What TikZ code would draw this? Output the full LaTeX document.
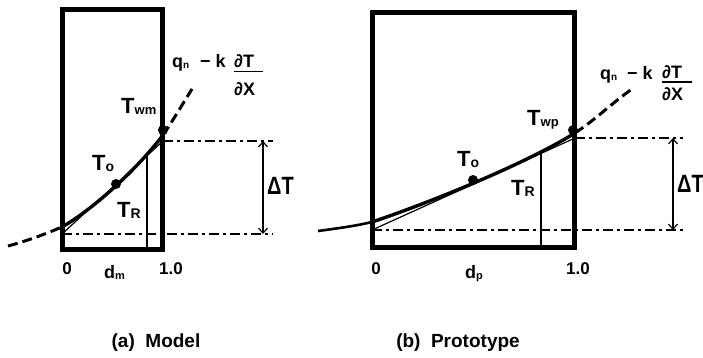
\documentclass[tikz,border=0pt]{standalone}
\usepackage{fontspec}
\setmainfont{Liberation Sans}
\usetikzlibrary{arrows.meta}
\begin{document}
\begin{tikzpicture}[x=1pt,y=-1pt,
  rectbox/.style={line width=5pt},
  curvethick/.style={line width=3.4pt},
  ext/.style={line width=3pt,dash pattern=on 10pt off 5pt},
  extsolid/.style={line width=2.6pt},
  chord/.style={line width=1.2pt},
  vline/.style={line width=1.6pt},
  ddline/.style={line width=1.8pt,dash pattern=on 10pt off 4pt on 3pt off 4pt},
  dtarrow/.style={line width=1.2pt,{Straight Barb[length=5pt,width=9pt]}-{Straight Barb[length=5pt,width=9pt]}},
  dotc/.style={circle,fill=black,inner sep=0pt,minimum size=10pt},
  lbl/.style={inner sep=0pt,anchor=base west},
  tl/.style={lbl,font=\fontsize{22}{22}\selectfont\bfseries},
  sm/.style={lbl,font=\fontsize{18}{18}\selectfont\bfseries},
  num/.style={inner sep=0pt,font=\fontsize{17}{17}\selectfont\bfseries},
  dlt/.style={lbl,font=\fontsize{25}{25}\selectfont\bfseries},
  dsym/.style={lbl,font=\fontsize{18}{18}\selectfont\bfseries},
  captext/.style={inner sep=0pt,font=\fontsize{19}{19}\selectfont\bfseries}
]
\useasboundingbox (0,0) rectangle (703,357);
\newcommand{\subs}[2][12]{\raisebox{-1.5pt}{\fontsize{#1}{#1}\selectfont #2}}
\newcommand{\narrow}[1]{\scalebox{0.8}[1]{#1}}

% ---------------- (a) Model ----------------
\node[draw,rectbox,inner sep=0pt,minimum width=100pt,minimum height=240pt] (Lrect) at (112.5,129.5) {};
\coordinate (LA) at (8,246);
\coordinate (LB) at (62,227);
\coordinate (LC) at (163,135);
\coordinate (LD) at (192,89);
\draw[ext] (LA) .. controls (30,240) and (45,234) .. (LB);
\draw[curvethick] (LB) .. controls (95,208) and (138,168) .. (LC);
\draw[ext] (LC) .. controls (172,122) and (182,105) .. (LD);
\coordinate (LP0) at (62,234);
\coordinate (LP1) at (163,141);
\draw[chord] (LP0) -- (LP1);
\coordinate (LV0) at (147,156);
\coordinate (LV1) at (147,250);
\draw[vline] (LV0) -- (LV1);
\coordinate (LL1) at (273,234);
\coordinate (LU1) at (273,141);
\draw[ddline] (LP0) -- (LL1);
\draw[ddline] (LP1) -- (LU1);
\coordinate (LAt) at (263,141);
\coordinate (LAb) at (263,234);
\draw[dtarrow] (LAt) -- (LAb);
\node[dotc] (LdotW) at (163,130) {};
\node[dotc] (LdotO) at (116,184) {};
\node[tl] (LTwm) at (121,113) {T\subs[13]{wm}};
\node[tl] (LTo) at (92,170) {T\subs[14]{o}};
\node[tl] (LTR) at (117,217) {T\subs[14]{R}};
\node[dlt] (LdT) at (267,194) {\narrow{ΔT}};
\node[sm] (Lq) at (172,67) {q\subs[10]{n}};
\node[sm] (Lk) at (200,67) {− k};
\node[sm] (Lnum) at (234,67) {∂T};
\node[sm] (Lden) at (234,95) {∂X};
\coordinate (LfA) at (234,71.5);
\coordinate (LfB) at (263,71.5);
\draw[line width=1.4pt] (LfA) -- (LfB);
\node[num] (L0) at (67,269) {0};
\node[dsym] (Ldm) at (104,278) {d\subs[11]{m}};
\node[num] (L1) at (171,269) {1.0};
\node[captext] (Lcap) at (156,343) {(a)\ \ Model};

% ---------------- (b) Prototype ----------------
\node[draw,rectbox,inner sep=0pt,minimum width=202pt,minimum height=235pt] (Rrect) at (473.5,130) {};
\coordinate (RA) at (318,231);
\coordinate (RB) at (372,222);
\coordinate (RC) at (575,133);
\coordinate (RD) at (632,89);
\draw[extsolid] (RA) .. controls (340,228) and (355,226) .. (RB);
\draw[curvethick] (RB) .. controls (420,206) and (520,167) .. (RC);
\draw[ext] (RC) .. controls (595,120) and (612,103) .. (RD);
\coordinate (RP0) at (372,230);
\coordinate (RP1) at (575,138);
\draw[chord] (RP0) -- (RP1);
\coordinate (RV0) at (541,153);
\coordinate (RV1) at (541,248);
\draw[vline] (RV0) -- (RV1);
\coordinate (RL1) at (683,230);
\coordinate (RU1) at (683,138);
\draw[ddline] (RP0) -- (RL1);
\draw[ddline] (RP1) -- (RU1);
\coordinate (RAt) at (673,138);
\coordinate (RAb) at (673,230);
\draw[dtarrow] (RAt) -- (RAb);
\node[dotc] (RdotW) at (573,130) {};
\node[dotc] (RdotO) at (473,180) {};
\node[tl] (RTwp) at (527,125) {T\subs[13]{wp}};
\node[tl] (RTo) at (457,166) {T\subs[14]{o}};
\node[tl] (RTR) at (511,195) {T\subs[14]{R}};
\node[dlt] (RdT) at (677,192) {\narrow{ΔT}};
\node[sm] (Rq) at (600,79) {q\subs[10]{n}};
\node[sm] (Rk) at (627,79) {− k};
\node[sm] (Rnum) at (662,78) {∂T};
\node[sm] (Rden) at (662,100) {∂X};
\coordinate (RfA) at (662,82);
\coordinate (RfB) at (692,82);
\draw[line width=1.4pt] (RfA) -- (RfB);
\node[num] (R0) at (376,269) {0};
\node[dsym] (Rdp) at (465,278) {d\subs[11]{p}};
\node[num] (R1) at (578,269) {1.0};
\node[captext] (Rcap) at (458,343) {(b)\ \ Prototype};
\end{tikzpicture}
\end{document}
